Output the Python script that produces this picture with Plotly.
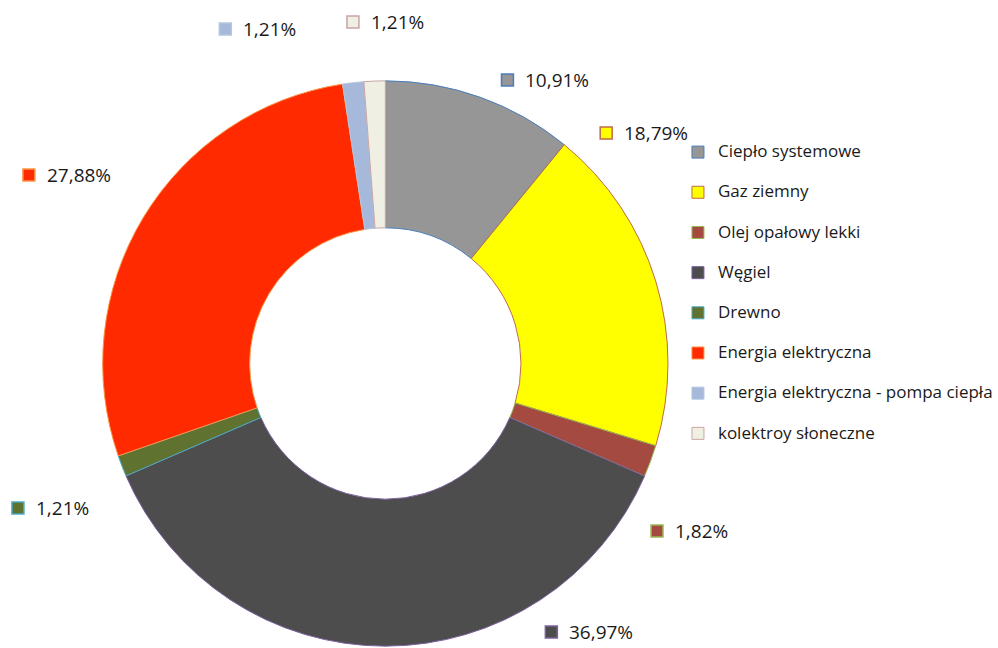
import plotly.graph_objects as go

labels = ["Ciepło systemowe", "Gaz ziemny", "Olej opałowy lekki", "Węgiel", "Drewno",
          "Energia elektryczna", "Energia elektryczna - pompa ciepła", "kolektroy słoneczne"]
values = [10.91, 18.79, 1.82, 36.97, 1.21, 27.88, 1.21, 1.21]

colors = ["#969696", "#FFFF00", "#A54A40", "#4D4D4D", "#5F7230", "#FF2A00", "#A6B9DB", "#EFEFE3"]
borders = ["#4A7EBB", "#BE6A48", "#98B954", "#7D60A0", "#4BACC6", "#F79646", "#B4C6E0", "#C9A5A5"]

# label marker centres in pixels (Excel "best fit" placement)
label_px = [(509, 80), (608, 133), (659, 531), (553, 632), (18, 508), (29, 175), (226, 29), (354, 22)]

W, H = 998, 648

fig = go.Figure(go.Pie(
    labels=[f"<span style='font-size:17px;baseline-shift:6px'>{l}</span>" for l in labels],
    values=values,
    sort=False,
    direction="clockwise",
    rotation=0,
    hole=0.48,
    marker=dict(colors=colors, line=dict(color=borders, width=1)),
    textinfo="none",
    domain=dict(x=[103 / W, 670 / W], y=[1 / H, 568 / H]),
))

for v, c, b, (px, py) in zip(values, colors, borders, label_px):
    fig.add_shape(type="rect", xref="paper", yref="paper",
                  x0=(px - 6) / W, x1=(px + 6) / W,
                  y0=1 - (py + 6) / H, y1=1 - (py - 6) / H,
                  fillcolor=c, line=dict(color=b, width=1.5))
    fig.add_annotation(x=(px + 16) / W, y=1 - py / H, xref="paper", yref="paper",
                       xanchor="left", yanchor="middle", showarrow=False,
                       text=f"{v:.2f}%".replace(".", ","),
                       font=dict(size=19, color="#1a1a1a"))

fig.update_layout(
    width=W, height=H,
    margin=dict(l=0, r=0, t=0, b=0),
    paper_bgcolor="white",
    font=dict(family="Open Sans", color="#1a1a1a"),
    legend=dict(x=680 / W, y=1 - 127 / H, xanchor="left", yanchor="top",
                font=dict(size=28.6), itemwidth=30, bgcolor="rgba(0,0,0,0)"),
)

fig.write_html("out.html", config={"displayModeBar": False},
               post_script="document.body.style.margin='0';")
